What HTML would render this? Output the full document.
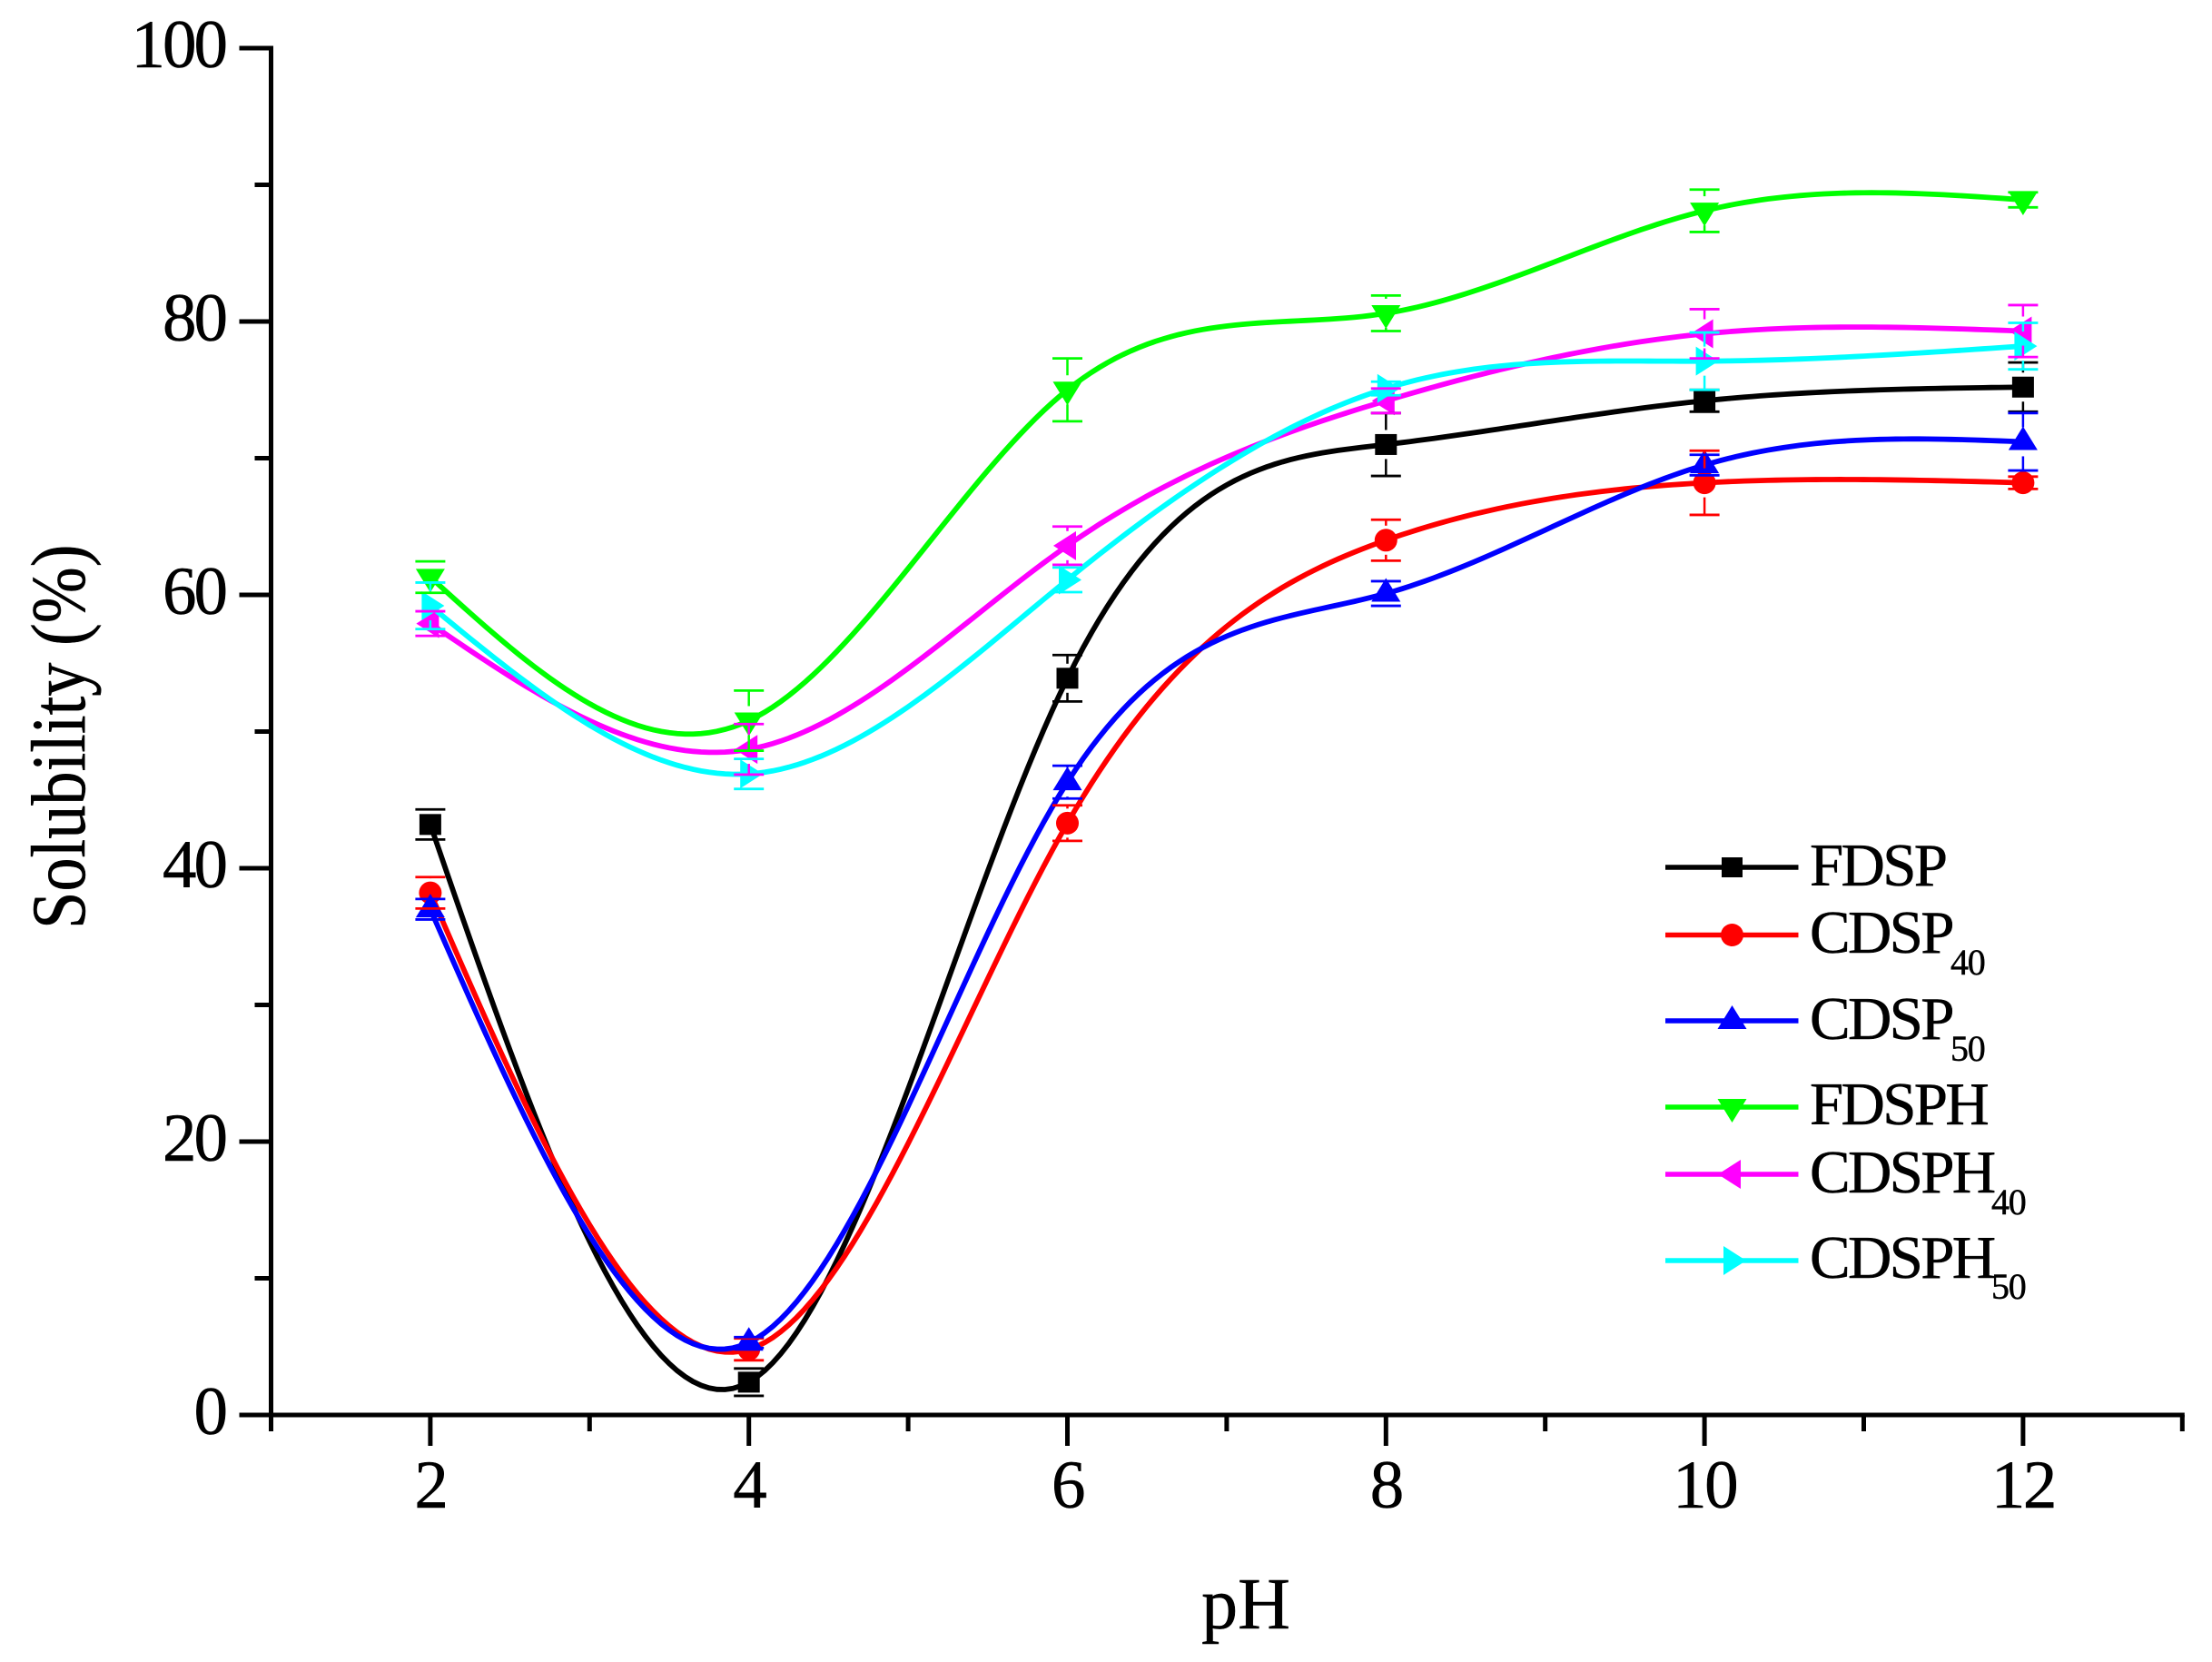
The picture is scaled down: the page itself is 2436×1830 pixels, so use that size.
<!DOCTYPE html>
<html lang="en">
<head>
<meta charset="utf-8">
<title>Solubility vs pH</title>
<style>
html,body{margin:0;padding:0;background:#fff;width:2436px;height:1830px;overflow:hidden}
svg{display:block}
text{font-family:"Liberation Serif",serif;fill:#000;stroke:#000;stroke-width:0.5px}
</style>
</head>
<body>
<svg id="chart" xmlns="http://www.w3.org/2000/svg" width="2436" height="1830" viewBox="0 0 2436 1830">
  <rect x="0" y="0" width="2436" height="1830" fill="#fff"/>
  <g id="series-layer"></g>
  <g id="error-layer"></g>
  <g id="axis-layer"></g>
  <text x="1372" y="1793" font-size="80" text-anchor="middle">pH</text>
  <text transform="translate(93,1023) rotate(-90) scale(0.875,1)" font-size="85">Solubility (%)</text>
  <g font-size="67" letter-spacing="-2.7">
    <g>
      <line x1="1834" x2="1980.5" y1="955" y2="955" stroke="#000" stroke-width="5.5"/>
      <rect x="1896" y="944" width="23" height="22" fill="#000"/>
      <text x="1993" y="975">FDSP</text>
    </g>
    <g>
      <line x1="1834" x2="1980.5" y1="1029.5" y2="1029.5" stroke="#f00" stroke-width="5.5"/>
      <circle cx="1907.5" cy="1029.5" r="12.5" fill="#f00"/>
      <text x="1993" y="1049">CDSP</text>
      <text x="2148" y="1073" font-size="40" letter-spacing="-1.2">40</text>
    </g>
    <g>
      <line x1="1834" x2="1980.5" y1="1124" y2="1124" stroke="#00f" stroke-width="5.5"/>
      <polygon points="1907.5,1107 1923.5,1133 1891.5,1133" fill="#00f"/>
      <text x="1993" y="1144">CDSP</text>
      <text x="2148" y="1168" font-size="40" letter-spacing="-1.2">50</text>
    </g>
    <g>
      <line x1="1834" x2="1980.5" y1="1219" y2="1219" stroke="#0f0" stroke-width="5.5"/>
      <polygon points="1907.5,1236 1923.5,1210 1891.5,1210" fill="#0f0"/>
      <text x="1993" y="1238">FDSPH</text>
    </g>
    <g>
      <line x1="1834" x2="1980.5" y1="1293" y2="1293" stroke="#f0f" stroke-width="5.5"/>
      <polygon points="1892,1293 1917,1277 1917,1309" fill="#f0f"/>
      <text x="1993" y="1313">CDSPH</text>
      <text x="2193" y="1337" font-size="40" letter-spacing="-1.2">40</text>
    </g>
    <g>
      <line x1="1834" x2="1980.5" y1="1388" y2="1388" stroke="#0ff" stroke-width="5.5"/>
      <polygon points="1923,1388 1898,1372 1898,1404" fill="#0ff"/>
      <text x="1993" y="1407">CDSPH</text>
      <text x="2193" y="1430" font-size="40" letter-spacing="-1.2">50</text>
    </g>
  </g>
</svg>
<script>
// ---- chart data ----
const phValues = [2, 4, 6, 8, 10, 12];

const fdspValues   = [43.2, 2.4, 53.9, 71.0, 74.2, 75.2];
const cdsp40Values = [38.2, 4.8, 43.3, 64.0, 68.2, 68.2];
const cdsp50Values = [37.0, 5.3, 46.3, 60.1, 69.5, 71.2];
const fdsphValues  = [61.3, 50.8, 75.0, 80.6, 88.1, 88.9];
const cdsph40Values = [57.9, 48.7, 63.6, 74.2, 79.1, 79.3];
const cdsph50Values = [59.2, 46.9, 61.1, 75.1, 77.1, 78.2];

const fdspErrors   = [1.1, 1.0, 1.7, 2.3, 0.8, 1.8];
const cdsp40Errors = [1.15, 0.8, 1.3, 1.5, 2.35, 0.45];
const cdsp50Errors = [0.75, 0.4, 1.2, 0.9, 0.75, 2.1];
const fdsphErrors  = [1.15, 2.2, 2.3, 1.3, 1.55, 0.55];
const cdsph40Errors = [0.9, 1.85, 1.4, 0.9, 1.8, 1.9];
const cdsph50Errors = [1.7, 1.1, 0.9, 0.5, 2.1, 1.7];

const seriesNames = ['fdsp', 'cdsp40', 'cdsp50', 'fdsph', 'cdsph40', 'cdsph50'];
const seriesColors = ['#000000', '#ff0000', '#0000ff', '#00ff00', '#ff00ff', '#00ffff'];
const seriesShapes = ['square', 'circle', 'up', 'down', 'left', 'right'];
const seriesValues = [fdspValues, cdsp40Values, cdsp50Values, fdsphValues, cdsph40Values, cdsph50Values];
const seriesErrors = [fdspErrors, cdsp40Errors, cdsp50Errors, fdsphErrors, cdsph40Errors, cdsph50Errors];

const xMajorTicks = [2, 4, 6, 8, 10, 12];
const xMinorTicks = [1, 3, 5, 7, 9, 11, 13];
const yMajorTicks = [0, 20, 40, 60, 80, 100];
const yMinorTicks = [10, 30, 50, 70, 90];

// ---- axis functions ----
const SVGNS = 'http://www.w3.org/2000/svg';
function xScale(v) { return 298.5 + (v - 1) * 175.4; }
function yScale(v) { return 1558 - v * 15.05; }

function make(tag, parent, attrs) {
  const el = document.createElementNS(SVGNS, tag);
  for (const k in attrs) el.setAttribute(k, attrs[k]);
  parent.appendChild(el);
  return el;
}

// natural cubic spline through the data
function splinePath(xs, ys) {
  const n = xs.length;
  const a = new Array(n).fill(0), b = new Array(n).fill(0), c = new Array(n).fill(0), d = new Array(n).fill(0);
  b[0] = 1; b[n - 1] = 1;
  for (let i = 1; i < n - 1; i++) {
    const h0 = xs[i] - xs[i - 1], h1 = xs[i + 1] - xs[i];
    a[i] = h0; b[i] = 2 * (h0 + h1); c[i] = h1;
    d[i] = 6 * ((ys[i + 1] - ys[i]) / h1 - (ys[i] - ys[i - 1]) / h0);
  }
  for (let i = 1; i < n; i++) {
    const m = a[i] / b[i - 1];
    b[i] -= m * c[i - 1];
    d[i] -= m * d[i - 1];
  }
  const M = new Array(n).fill(0);
  M[n - 1] = d[n - 1] / b[n - 1];
  for (let i = n - 2; i >= 0; i--) M[i] = (d[i] - c[i] * M[i + 1]) / b[i];
  let out = 'M' + xScale(xs[0]).toFixed(2) + ' ' + yScale(ys[0]).toFixed(2);
  for (let i = 0; i < n - 1; i++) {
    const h = xs[i + 1] - xs[i];
    for (let s = 1; s <= 40; s++) {
      const t = xs[i] + h * s / 40;
      const A = (xs[i + 1] - t) / h, B = (t - xs[i]) / h;
      const val = A * ys[i] + B * ys[i + 1] + ((A * A * A - A) * M[i] + (B * B * B - B) * M[i + 1]) * h * h / 6;
      out += ' L' + xScale(t).toFixed(2) + ' ' + yScale(val).toFixed(2);
    }
  }
  return out;
}

function drawMarker(parent, shape, cx, cy, color) {
  let el;
  if (shape === 'square') {
    el = make('rect', parent, { x: cx - 12, y: cy - 11.5, width: 24, height: 23, fill: color });
  } else if (shape === 'circle') {
    el = make('circle', parent, { cx: cx, cy: cy, r: 12.5, fill: color });
  } else {
    let pts;
    if (shape === 'up') pts = [[cx, cy - 17], [cx + 16, cy + 9], [cx - 16, cy + 9]];
    if (shape === 'down') pts = [[cx, cy + 17], [cx + 16, cy - 9], [cx - 16, cy - 9]];
    if (shape === 'left') pts = [[cx - 15.5, cy], [cx + 9.5, cy - 16], [cx + 9.5, cy + 16]];
    if (shape === 'right') pts = [[cx + 15.5, cy], [cx - 9.5, cy - 16], [cx - 9.5, cy + 16]];
    el = make('polygon', parent, { points: pts.map(p => p.join(',')).join(' '), fill: color });
  }
  return el;
}

const seriesLayer = document.getElementById('series-layer');
const errorLayer = document.getElementById('error-layer');
const axisLayer = document.getElementById('axis-layer');

// ---- series ----
seriesValues.forEach(function (values, si) {
  const color = seriesColors[si];
  const group = make('g', seriesLayer, {});
  
  
  const line = make('path', group, { d: splinePath(phValues, values), fill: 'none', stroke: color, 'stroke-width': 5.8 });
  
  
  values.forEach(function (v, i) {
    const m = drawMarker(group, seriesShapes[si], xScale(phValues[i]), yScale(v), color);
    
    
  });
});

// ---- error bars (stems stop short of the marker centre) ----
seriesValues.forEach(function (values, si) {
  const color = seriesColors[si];
  values.forEach(function (v, i) {
    const err = seriesErrors[si][i];
    const cx = xScale(phValues[i]), cy = yScale(v);
    const top = yScale(v + err), bottom = yScale(v - err);
    const g = make('g', errorLayer, { stroke: color });
    
    
    make('line', g, { x1: cx - 16.5, x2: cx + 16.5, y1: top, y2: top, 'stroke-width': 2.8 });
    make('line', g, { x1: cx - 16.5, x2: cx + 16.5, y1: bottom, y2: bottom, 'stroke-width': 2.8 });
    if (cy - top > 16) make('line', g, { x1: cx, x2: cx, y1: top, y2: cy - 16, 'stroke-width': 2.5 });
    if (bottom - cy > 16) make('line', g, { x1: cx, x2: cx, y1: cy + 16, y2: bottom, 'stroke-width': 2.5 });
  });
});

// ---- axes ----
const xAxisLine = make('line', axisLayer, { x1: xScale(1) - 2.5, x2: xScale(13) + 2.5, y1: yScale(0), y2: yScale(0), stroke: '#000', 'stroke-width': 5 });


const yAxisLine = make('line', axisLayer, { x1: xScale(1), x2: xScale(1), y1: yScale(0) + 2.5, y2: yScale(100) - 2.5, stroke: '#000', 'stroke-width': 5 });



xMajorTicks.forEach(function (t) {
  const tick = make('line', axisLayer, { x1: xScale(t), x2: xScale(t), y1: yScale(0), y2: yScale(0) + 34, stroke: '#000', 'stroke-width': 5 });
  
  
  const label = make('text', axisLayer, { x: xScale(t), y: 1660, 'font-size': 75, 'text-anchor': 'middle', 'letter-spacing': -2.5 });
  label.textContent = String(t);
  
  
});
xMinorTicks.forEach(function (t) {
  const tick = make('line', axisLayer, { x1: xScale(t), x2: xScale(t), y1: yScale(0), y2: yScale(0) + 18, stroke: '#000', 'stroke-width': 5 });
  
  
});
yMajorTicks.forEach(function (t) {
  const tick = make('line', axisLayer, { x1: xScale(1) - 35, x2: xScale(1), y1: yScale(t), y2: yScale(t), stroke: '#000', 'stroke-width': 5 });
  
  
  const label = make('text', axisLayer, { x: 248, y: yScale(t) + 21, 'font-size': 75, 'text-anchor': 'end', 'letter-spacing': -3 });
  label.textContent = String(t);
  
  
});
yMinorTicks.forEach(function (t) {
  const tick = make('line', axisLayer, { x1: xScale(1) - 18, x2: xScale(1), y1: yScale(t), y2: yScale(t), stroke: '#000', 'stroke-width': 5 });
  
  
});
</script>
</body>
</html>
